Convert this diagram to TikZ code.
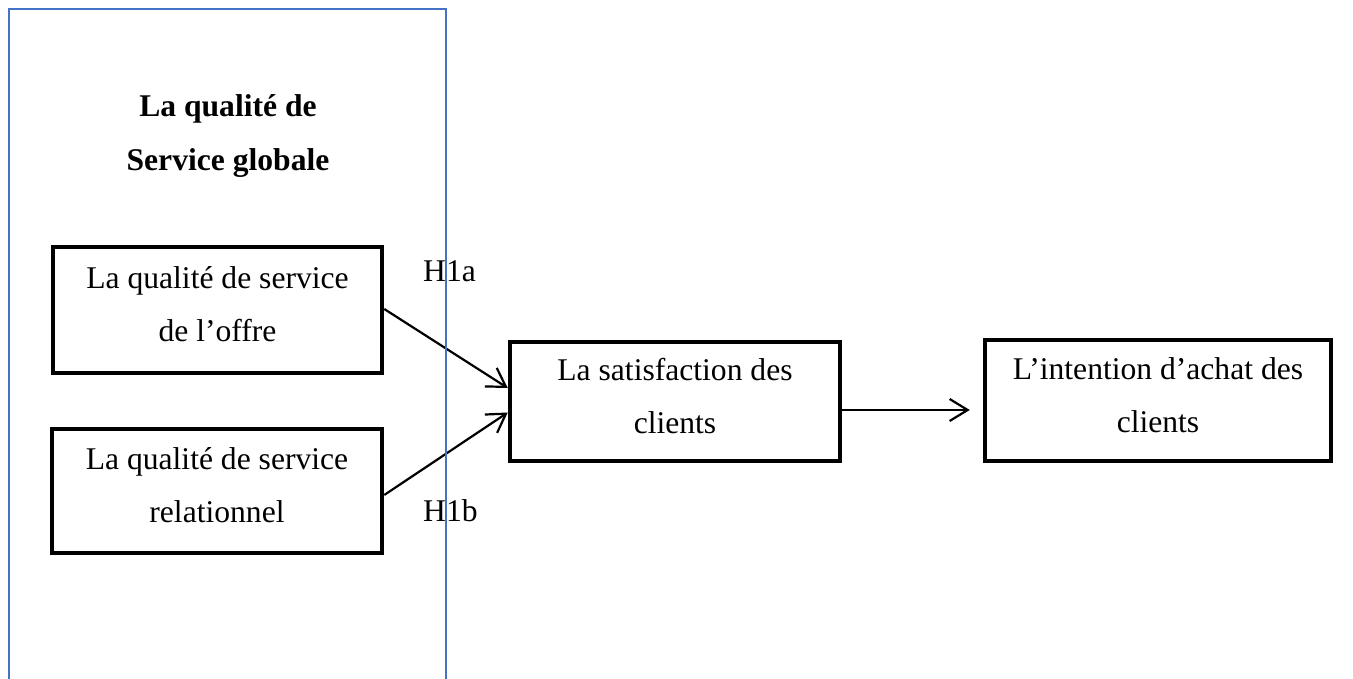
\documentclass[tikz,border=0pt]{standalone}
\usepackage{fontspec}
\setmainfont{Liberation Serif}
\usetikzlibrary{arrows.meta}
\definecolor{frameblue}{RGB}{68,114,196}
\tikzset{
  txt/.style={font=\fontsize{31.6}{53}\selectfont, align=center, inner sep=0pt},
  box/.style={txt, draw=black, line width=4.5pt},
  link/.style={line width=2.2pt, -{Straight Barb[length=18pt,width=22pt]}},
}
% bottom strut so two-line box texts sit where they should
\newcommand{\lowstrut}{\rule[-11pt]{0pt}{11pt}}
\begin{document}
\begin{tikzpicture}[x=1pt,y=-1pt]
\useasboundingbox (0,0) rectangle (1353,679);

% heading of the left panel
\node[txt, font=\fontsize{31.6}{54}\selectfont\bfseries] (title) at (228,136)
  {La qualité de\\ Service globale};

% boxes
\node[box, minimum width=329pt, minimum height=126pt] (offre) at (217.5,310)
  {La qualité de service\\de l’offre\lowstrut};
\node[box, minimum width=330pt, minimum height=124pt] (relat) at (217,491)
  {La qualité de service\\relationnel\lowstrut};
\node[box, minimum width=330pt, minimum height=119pt] (satis) at (675,401.5)
  {La satisfaction des\\clients\lowstrut};
\node[box, minimum width=346pt, minimum height=121pt] (intent) at (1158,400.5)
  {L’intention d’achat des\\clients\lowstrut};

% hypothesis labels
\node[txt, anchor=base west] (h1a) at (423,282) {H1a};
\node[txt, anchor=base west] (h1b) at (423,521) {H1b};

% connectors
\draw[link] ([yshift=1pt]offre.east) -- ([yshift=13.5pt]satis.west);
\draw[link] ([yshift=-4pt]relat.east) -- ([yshift=-11pt]satis.west);
\draw[link] ([yshift=-8.5pt]satis.east) -- ([xshift=-13pt,yshift=-9.5pt]intent.west);

% open blue frame around the left panel
\draw[frameblue, line width=1.5pt] (9,679) -- (9,9) -- (446,9) -- (446,679);
\end{tikzpicture}
\end{document}
